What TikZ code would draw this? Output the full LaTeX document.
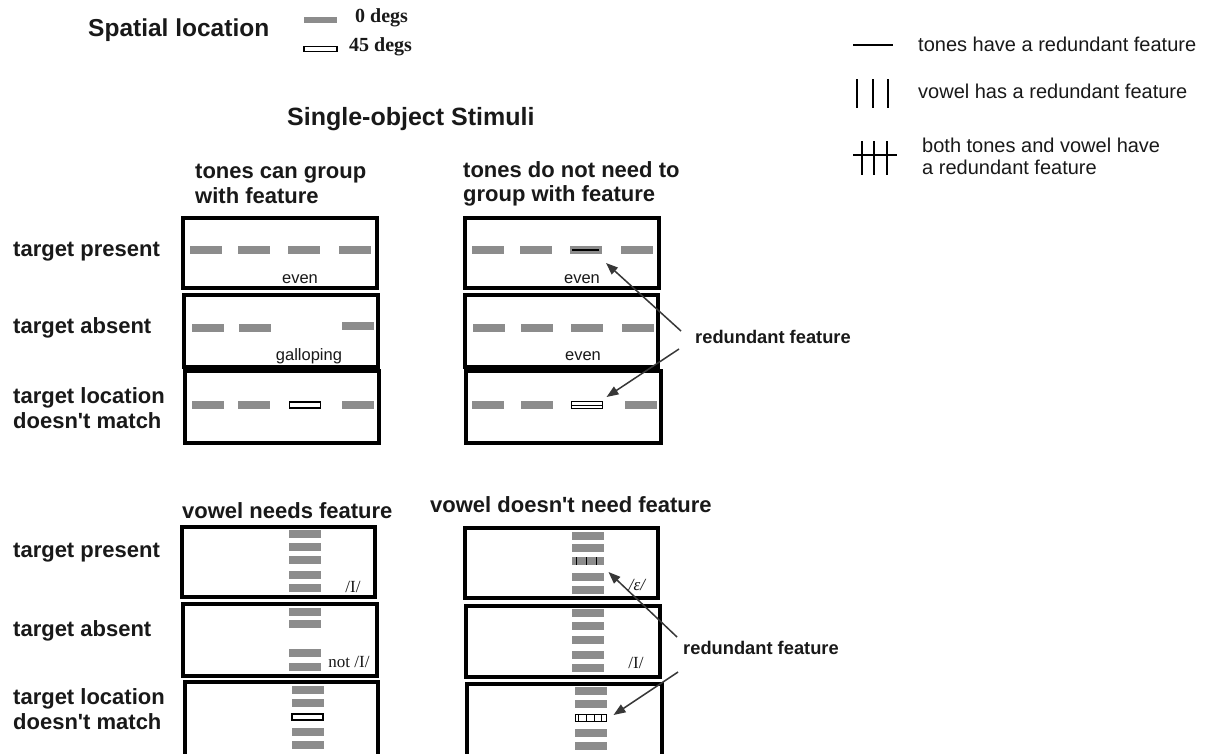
\documentclass[tikz,border=0pt]{standalone}
\usepackage{fontspec}
\usetikzlibrary{arrows.meta}
\newfontfamily\arial{Liberation Sans}
\newfontfamily\tms{Liberation Serif}
\definecolor{barg}{RGB}{140,140,140}
\definecolor{ink}{RGB}{25,25,25}
\definecolor{arrc}{RGB}{55,55,55}
\begin{document}
\begin{tikzpicture}[x=1pt,y=-1pt,
  panel/.style={draw=black, line width=3.2pt, rectangle, inner sep=0pt, outer sep=0pt, anchor=north west},
  bar/.style={rectangle, fill=barg, inner sep=0pt, outer sep=0pt, minimum width=32pt, minimum height=7.5pt},
  wbar/.style={rectangle, fill=white, draw=black, line width=1.1pt, inner sep=0pt, outer sep=0pt, minimum width=31pt, minimum height=6pt},
  lbl/.style={font=\arial\bfseries\fontsize{22}{24.5}\selectfont, anchor=west, inner sep=0pt, align=left, text=ink},
  big/.style={font=\arial\bfseries\fontsize{25}{28}\selectfont, anchor=west, inner sep=0pt, text=ink},
  leg/.style={font=\arial\fontsize{20}{22}\selectfont, anchor=west, inner sep=0pt, align=left, text=ink},
  deg/.style={font=\tms\bfseries\fontsize{20}{22}\selectfont, anchor=west, inner sep=0pt, text=ink},
  small/.style={font=\arial\fontsize{16.5}{18}\selectfont, inner sep=0pt, text=ink},
  ipa/.style={font=\tms\fontsize{17}{19}\selectfont, inner sep=0pt, text=ink},
  rf/.style={font=\arial\bfseries\fontsize{18.3}{20}\selectfont, anchor=west, inner sep=0pt, text=ink},
  arr/.style={draw=arrc, line width=1.5pt, -{Triangle[length=12pt,width=9pt]}},
  thinl/.style={draw=black, line width=1.2pt}
]
\useasboundingbox (0,0) rectangle (1217,753);
\fill[white] (0,0) rectangle (1217,753);

% ---------- top-left legend ----------
\node[big, font=\arial\bfseries\fontsize{24.5}{27}\selectfont] (sptitle) at (88,30) {Spatial location};
\node[bar, minimum width=33pt, minimum height=6pt] (leg0) at (320.5,20) {};
\node[wbar, minimum width=33pt, minimum height=5.5pt] (leg45) at (320.5,49) {};
\node[deg] (t0) at (355,18) {0 degs};
\node[deg] (t45) at (349,47) {45 degs};

% ---------- top-right legend ----------
\draw[thinl] (853,45) coordinate (la) -- (893,45) coordinate (lb);
\foreach \x [count=\i] in {857,873,888}
  \draw[thinl] (\x,79) coordinate (va\i) -- (\x,108) coordinate (vb\i);
\foreach \x [count=\i] in {862,874,887}
  \draw[thinl] (\x,141) coordinate (ha\i) -- (\x,175) coordinate (hb\i);
\draw[thinl] (853,155) coordinate (hl) -- (897,155) coordinate (hr);
\node[leg] (lt1) at (918,44) {tones have a redundant feature};
\node[leg] (lt2) at (918,91) {vowel has a redundant feature};
\node[leg] (lt3) at (922,156) {both tones and vowel have\\a redundant feature};

% ---------- titles ----------
\node[big] (sost) at (287,119) {Single-object Stimuli};
\node[lbl] (h1) at (195,184) {tones can group\\with feature};
\node[lbl] (h2) at (463,184) {tones do not need to\\group with feature};

% ---------- row labels top ----------
\node[lbl] (r1) at (13,252) {target present};
\node[lbl] (r2) at (13,328) {target absent};
\node[lbl] (r3) at (13,408) {target location\\doesn't match};

% ---------- top panels ----------
\node[panel, minimum width=194pt, minimum height=70pt] (tl1) at (183,218) {};
\node[panel, minimum width=194pt, minimum height=72pt] (tl2) at (184,295) {};
\node[panel, minimum width=194pt, minimum height=72pt] (tl3) at (185,371) {};
\node[panel, minimum width=194pt, minimum height=70pt] (tr1) at (465,218) {};
\node[panel, minimum width=193pt, minimum height=72pt] (tr2) at (465,295) {};
\node[panel, minimum width=195pt, minimum height=72pt] (tr3) at (466,371) {};

\foreach \x [count=\i] in {190,238,288,339}
  \node[bar, anchor=west] (tl1b\i) at (\x,250) {};
\node[bar, anchor=west] (tl2b1) at (192,328) {};
\node[bar, anchor=west] (tl2b2) at (239,328) {};
\node[bar, anchor=west] (tl2b3) at (342,326) {};
\node[bar, anchor=west] (tl3b1) at (192,405) {};
\node[bar, anchor=west] (tl3b2) at (238,405) {};
\node[wbar] (tl3c) at (305,405) {};
\node[bar, anchor=west] (tl3b4) at (342,405) {};

\node[bar, anchor=west] (tr1b1) at (472,250) {};
\node[bar, anchor=west] (tr1b2) at (520,250) {};
\node[bar] (tr1c) at (586,250) {};
\draw[line width=1.4pt] ([xshift=2pt]tr1c.west) -- ([xshift=-3pt]tr1c.east);
\node[bar, anchor=west] (tr1b4) at (621,250) {};
\foreach \x [count=\i] in {473,521,571,622}
  \node[bar, anchor=west] (tr2b\i) at (\x,328) {};
\node[bar, anchor=west] (tr3b1) at (472,405) {};
\node[bar, anchor=west] (tr3b2) at (521,405) {};
\node[wbar, minimum height=7pt] (tr3c) at (587,405) {};
\draw[line width=0.9pt] (tr3c.west) -- (tr3c.east);
\node[bar, anchor=west] (tr3b4) at (625,405) {};

\node[small] (e1) at (300,279) {even};
\node[small] (g1) at (309,356) {galloping};
\node[small] (e2) at (582,279) {even};
\node[small] (e3) at (583,356) {even};

\node[rf] (rf1) at (695,337) {redundant feature};
\draw[arr] ([xshift=-14pt,yshift=6pt]rf1.west) -- ([xshift=4pt,yshift=-13pt]tr1c.east);
\draw[arr] ([xshift=-16pt,yshift=-12pt]rf1.west) -- ([xshift=4pt,yshift=8pt]tr3c.east);

% ---------- bottom titles ----------
\node[lbl] (h3) at (182,511) {vowel needs feature};
\node[lbl] (h4) at (430,505) {vowel doesn't need feature};

\node[lbl] (r4) at (13,553) {target present};
\node[lbl] (r5) at (13,631) {target absent};
\node[lbl] (r6) at (13,709) {target location\\doesn't match};

% ---------- bottom panels ----------
\node[panel, minimum width=193pt, minimum height=70pt] (bl1) at (182,527) {};
\node[panel, minimum width=194pt, minimum height=72pt] (bl2) at (183,604) {};
\node[panel, minimum width=193pt, minimum height=80pt] (bl3) at (185,682) {};
\node[panel, minimum width=193pt, minimum height=70pt] (br1) at (465,528) {};
\node[panel, minimum width=194pt, minimum height=71pt] (br2) at (466,606) {};
\node[panel, minimum width=195pt, minimum height=80pt] (br3) at (467,684) {};

\foreach \y [count=\i] in {534,547,560,575,588}
  \node[bar] (bl1b\i) at (305,\y) {};
\foreach \y [count=\i] in {612,624,653,667}
  \node[bar] (bl2b\i) at (305,\y) {};
\node[bar] (bl3b1) at (307.5,690) {};
\node[bar] (bl3b2) at (307.5,703) {};
\node[wbar] (bl3c) at (307.5,717) {};
\node[bar] (bl3b4) at (307.5,732) {};
\node[bar] (bl3b5) at (307.5,745) {};

\node[bar] (br1b1) at (587.5,536) {};
\node[bar] (br1b2) at (587.5,548) {};
\node[bar] (br1c) at (587.5,561) {};
\foreach \dx in {-11,-1,9}
  \draw[line width=1.1pt] ([xshift=\dx pt]br1c.north) -- ([xshift=\dx pt]br1c.south);
\node[bar] (br1b4) at (587.5,577) {};
\node[bar] (br1b5) at (587.5,590) {};
\foreach \y [count=\i] in {613,626,640,655,668}
  \node[bar] (br2b\i) at (587.5,\y) {};
\node[bar] (br3b1) at (591,691) {};
\node[bar] (br3b2) at (591,704) {};
\node[wbar, minimum height=7pt] (br3c) at (591,718) {};
\foreach \dx in {-12.5,-5,3,10}
  \draw[line width=0.9pt] ([xshift=\dx pt]br3c.north) -- ([xshift=\dx pt]br3c.south);
\node[bar] (br3b4) at (591,733) {};
\node[bar] (br3b5) at (591,746) {};

\node[ipa] (i1) at (353,587) {/I/};
\node[ipa] (i2) at (349,662) {not /I/};
\node[ipa, font=\tms\itshape\fontsize{17}{19}\selectfont] (i3) at (637,585) {/ε/};
\node[ipa] (i4) at (636,663) {/I/};

\node[rf] (rf2) at (683,648) {redundant feature};
\draw[arr] ([xshift=-6pt,yshift=11pt]rf2.west) -- ([xshift=5pt,yshift=-11pt]br1c.east);
\draw[arr] ([xshift=-5pt,yshift=-24pt]rf2.west) -- ([xshift=7pt,yshift=3pt]br3c.east);
\end{tikzpicture}
\end{document}
